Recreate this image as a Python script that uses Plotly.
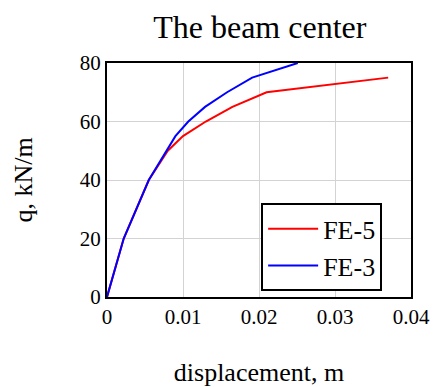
import plotly.graph_objects as go

fe5_x = [0, 0.0022, 0.0055, 0.008, 0.01, 0.013, 0.0165, 0.021, 0.037]
fe5_y = [0, 20, 40, 50, 55, 60, 65, 70, 75]
fe3_x = [0, 0.0022, 0.0055, 0.0078, 0.009, 0.0107, 0.0129, 0.0158, 0.0191, 0.0251]
fe3_y = [0, 20, 40, 50, 55, 60, 65, 70, 75, 80]
x_ticks = [0, 0.01, 0.02, 0.03, 0.04]
x_tick_text = ["0", "0.01", "0.02", "0.03", "0.04"]
y_ticks = [0, 20, 40, 60, 80]

font = "Liberation Serif, serif"

fig = go.Figure()
fig.add_trace(go.Scatter(x=fe5_x, y=fe5_y, mode="lines", name="FE-5",
                         line=dict(color="#ff0000", width=2)))
fig.add_trace(go.Scatter(x=fe3_x, y=fe3_y, mode="lines", name="FE-3",
                         line=dict(color="#0000ff", width=2)))

fig.update_layout(
    width=433, height=387,
    margin=dict(l=107, r=22, t=63, b=90, autoexpand=False),
    paper_bgcolor="white", plot_bgcolor="white",
    font=dict(family=font, color="black"),
    title=dict(text="The beam center", x=0.6, xanchor="center", y=0.932, yanchor="middle",
               font=dict(size=32, family=font, color="black")),
    legend=dict(x=0.507, y=0.4, xanchor="left", yanchor="top",
                bgcolor="white", bordercolor="black", borderwidth=2,
                font=dict(size=26, family=font, color="black"), tracegroupgap=0,
                itemwidth=50),
    showlegend=True,
)
fig.update_xaxes(range=[0, 0.04], tickvals=x_ticks, ticktext=x_tick_text, automargin=False,
                 showgrid=True, gridcolor="#d3d3d3", gridwidth=1,
                 showline=True, linecolor="black", linewidth=2, mirror=True,
                 ticks="", zeroline=False, tickfont=dict(size=21, family=font, color="black"),
                 title=dict(text="displacement, m", font=dict(size=26, family=font, color="black"), standoff=40))
fig.update_yaxes(range=[0, 80], tickvals=y_ticks, automargin=False,
                 showgrid=True, gridcolor="#d3d3d3", gridwidth=1,
                 showline=True, linecolor="black", linewidth=2, mirror=True,
                 ticks="", zeroline=False, tickfont=dict(size=21, family=font, color="black"),
                 ticklabelstandoff=0,
                 title=dict(text="q, kN/m", font=dict(size=26, family=font, color="black"), standoff=40))

fig.write_html("out.html")
